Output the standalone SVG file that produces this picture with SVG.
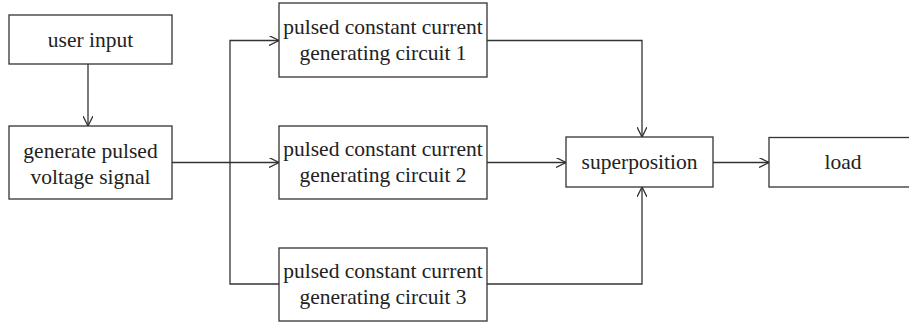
<svg xmlns="http://www.w3.org/2000/svg" width="909" height="322" viewBox="0 0 909 322">
<style>
.box{fill:#fff;stroke:#333;stroke-width:1.3}
.t{font-family:"Liberation Serif","Times New Roman",serif;font-size:21.5px;fill:#222;text-anchor:middle}
.c{fill:none;stroke:#333;stroke-width:1.3}
</style>
<defs>
<marker id="ah" viewBox="0 0 10 10" refX="10" refY="5" markerWidth="10" markerHeight="10" markerUnits="userSpaceOnUse" orient="auto">
<path d="M0,0 L10,5 L0,10" fill="none" stroke="#333" stroke-width="1.3"/>
</marker>
</defs>
<rect width="909" height="322" fill="#fff"/>
<g id="connectors">
<path class="c" d="M88,64 V126" marker-end="url(#ah)"/>
<path class="c" d="M172,162.5 H279" marker-end="url(#ah)"/>
<path class="c" d="M230,162.5 V40.5 H279" marker-end="url(#ah)"/>
<path class="c" d="M230,162.5 V284 H279"/>
<path class="c" d="M487,40.5 H642 V137" marker-end="url(#ah)"/>
<path class="c" d="M487,162.5 H566" marker-end="url(#ah)"/>
<path class="c" d="M487,284 H642 V187" marker-end="url(#ah)"/>
<path class="c" d="M713,162.5 H769" marker-end="url(#ah)"/>
</g>
<g id="user-input"><rect class="box" x="9" y="15" width="163" height="49"/><text class="t" x="90.5" y="47">user input</text></g>
<g id="generate"><rect class="box" x="9" y="126" width="163" height="73"/><text class="t" x="90.5" y="158">generate pulsed</text><text class="t" x="90.5" y="184">voltage signal</text></g>
<g id="circuit1"><rect class="box" x="279" y="3" width="208" height="74"/><text class="t" x="383" y="34">pulsed constant current</text><text class="t" x="383" y="60">generating circuit 1</text></g>
<g id="circuit2"><rect class="box" x="279" y="126" width="208" height="73"/><text class="t" x="383" y="156">pulsed constant current</text><text class="t" x="383" y="182">generating circuit 2</text></g>
<g id="circuit3"><rect class="box" x="279" y="248" width="208" height="73"/><text class="t" x="383" y="278">pulsed constant current</text><text class="t" x="383" y="304">generating circuit 3</text></g>
<g id="superposition"><rect class="box" x="566" y="137" width="147" height="50"/><text class="t" x="639.5" y="169">superposition</text></g>
<g id="load"><rect class="box" x="769" y="137.5" width="148" height="49.5"/><text class="t" x="843" y="169">load</text></g>
</svg>
